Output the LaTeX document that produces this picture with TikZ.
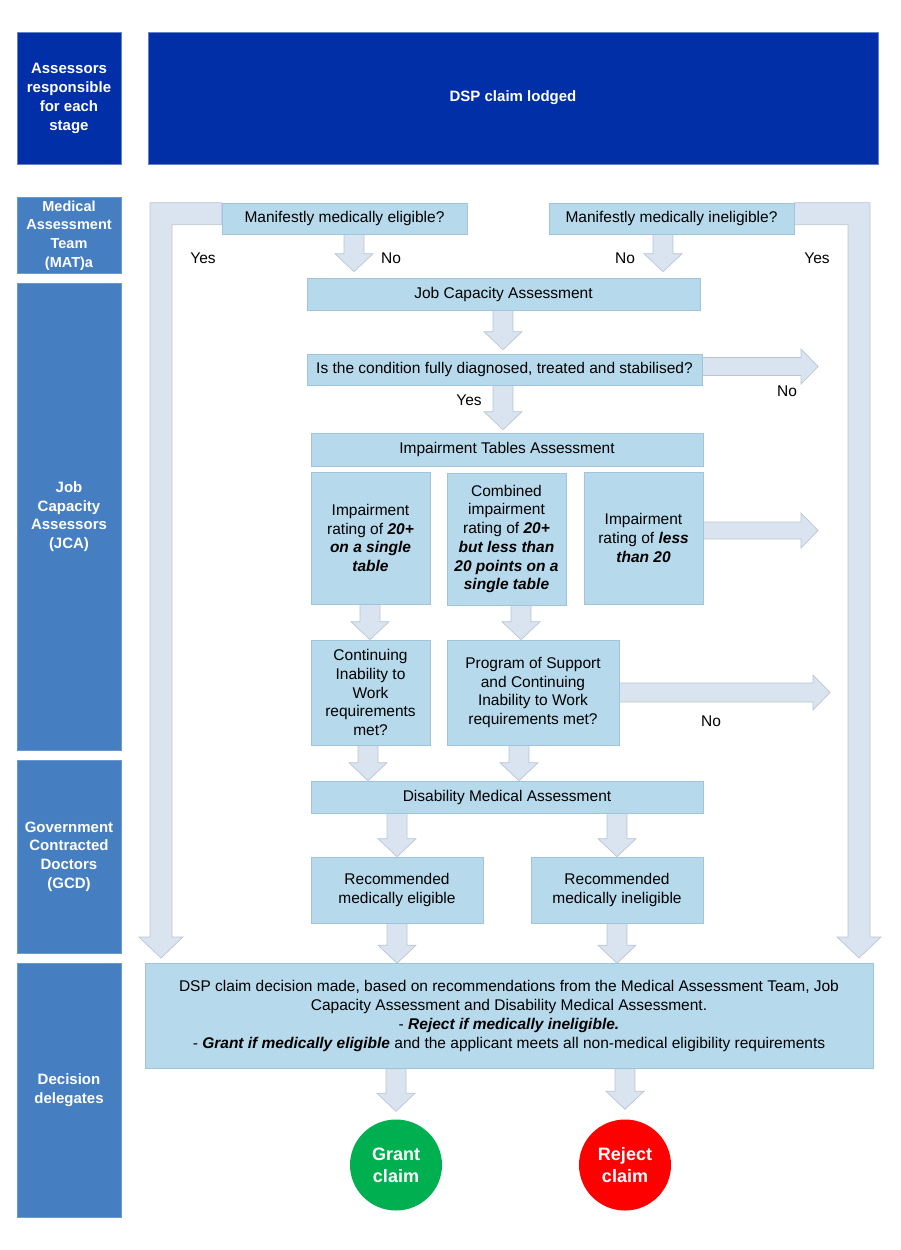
\documentclass[tikz,border=0pt]{standalone}
\usepackage{fontspec}
\setmainfont{Liberation Sans}
\usetikzlibrary{shapes.geometric,calc,backgrounds}

\definecolor{darkb}{RGB}{0,47,167}
\definecolor{midb}{RGB}{70,126,194}
\definecolor{boxfill}{RGB}{182,217,235}
\definecolor{boxline}{RGB}{160,196,218}
\definecolor{arrfill}{RGB}{218,228,241}
\definecolor{arrline}{RGB}{186,197,211}
\definecolor{grantc}{RGB}{0,176,80}
\definecolor{rejc}{RGB}{255,0,0}

\newcommand\bi[1]{\textbf{\textit{#1}}}

% down block arrow: [gap]{x px}{from node}{to node}
\newcommand\dnarrow[4][0]{%
  \path[barrow] let \p1=(#3.south), \p2=(#4.north) in
  ({#2pt-10pt},\y1) -- ({#2pt+10pt},\y1) -- ({#2pt+10pt},{\y2+#1pt+18pt}) --
  ({#2pt+19pt},{\y2+#1pt+18pt}) -- (#2pt,{\y2+#1pt}) -- ({#2pt-19pt},{\y2+#1pt+18pt}) --
  ({#2pt-10pt},{\y2+#1pt+18pt}) -- cycle;}
% right block arrow: {from node}{y px}{tip x px}{shaft half}{head half}
\newcommand\rtarrow[5]{%
  \path[barrow] let \p1=(#1.east), \p2=(#3,#2) in
  (\x1,{\y2+#4pt}) -- ({\x2-17pt},{\y2+#4pt}) -- ({\x2-17pt},{\y2+#5pt}) -- (\x2,\y2) --
  ({\x2-17pt},{\y2-#5pt}) -- ({\x2-17pt},{\y2-#4pt}) -- (\x1,{\y2-#4pt}) -- cycle;}

\begin{document}
\begin{tikzpicture}[x=1pt,y=-1pt,
  every node/.style={font=\fontsize{15.5}{18.7}\selectfont, inner sep=0pt, align=center},
  hdrbox/.style={fill=darkb, draw=darkb!60!white, line width=0.6pt, text=white, font=\fontsize{15}{19}\selectfont\bfseries},
  sidebox/.style={fill=midb, draw=midb!80!white, line width=0.6pt, text=white, font=\fontsize{15}{18.7}\selectfont\bfseries, minimum width=104pt},
  stepbox/.style={fill=boxfill, draw=boxline, line width=0.6pt},
  barrow/.style={fill=arrfill, draw=arrline, line width=0.7pt},
  lbl/.style={font=\fontsize{15.5}{18.7}\selectfont},
  circ/.style={ellipse, text=white, font=\fontsize{18}{22}\selectfont\bfseries, minimum width=92pt, minimum height=91pt}
]
\useasboundingbox (0,0) rectangle (900,1250);

% left column
\node[hdrbox, minimum width=104pt, minimum height=132pt] (hdr) at (69,98) {Assessors\\responsible\\for each\\stage};
\node[hdrbox, minimum width=730pt, minimum height=132pt] (lodged) at (513,98) {DSP claim lodged};
\node[sidebox, minimum height=76pt, font=\fontsize{14.5}{18.7}\selectfont\bfseries] (mat) at (69,235.5) {Medical\\Assessment\\Team\\(MAT)a};
\node[sidebox, minimum height=467pt] (jca) at (69,516.5) {Job\\Capacity\\Assessors\\(JCA)};
\node[sidebox, minimum height=193pt] (gcd) at (69,856.5) {Government\\Contracted\\Doctors\\(GCD)};
\node[sidebox, minimum height=254pt] (dd) at (69,1090) {Decision\\delegates};

% step boxes
\node[stepbox, minimum width=245pt, minimum height=31pt] (elig) at (344.5,218.5) {Manifestly medically eligible?};
\node[stepbox, minimum width=245pt, minimum height=31pt] (inelig) at (671.5,218.5) {Manifestly medically ineligible?};
\node[stepbox, minimum width=393pt, minimum height=32pt] (jcabox) at (503.5,294) {Job Capacity Assessment};
\node[stepbox, minimum width=395pt, minimum height=31pt] (cond) at (504.5,369.5) {Is the condition fully diagnosed, treated and stabilised?};
\node[stepbox, minimum width=392pt, minimum height=33pt] (ita) at (507,449.5) {Impairment Tables Assessment};
\node[stepbox, minimum width=119pt, minimum height=132pt] (r1) at (370.5,538) {Impairment\\rating of \bi{20+}\\\bi{on a single}\\\bi{table}};
\node[stepbox, minimum width=119pt, minimum height=132pt] (r2) at (506.5,539) {Combined\\impairment\\rating of \bi{20+}\\\bi{but less than}\\\bi{20 points on a}\\\bi{single table}};
\node[stepbox, minimum width=119pt, minimum height=132pt] (r3) at (643.5,538) {Impairment\\rating of \bi{less}\\\bi{than 20}};
\node[stepbox, minimum width=119pt, minimum height=105pt] (ciw) at (370.5,692.5) {Continuing\\Inability to\\Work\\requirements\\met?};
\node[stepbox, minimum width=172pt, minimum height=105pt] (pos) at (533,692.5) {Program of Support\\and Continuing\\Inability to Work\\requirements met?};
\node[stepbox, minimum width=392pt, minimum height=32pt] (dma) at (507,797) {Disability Medical Assessment};
\node[stepbox, minimum width=172pt, minimum height=66pt] (rme) at (397,890) {Recommended\\medically eligible};
\node[stepbox, minimum width=172pt, minimum height=66pt] (rmi) at (617,890) {Recommended\\medically ineligible};
\node[stepbox, minimum width=728pt, minimum height=105pt] (dec) at (509,1016) {DSP claim decision made, based on recommendations from the Medical Assessment Team, Job\\Capacity Assessment and Disability Medical Assessment.\\- \bi{Reject if medically ineligible.}\\- \bi{Grant if medically eligible} and the applicant meets all non-medical eligibility requirements};
\node[circ, fill=grantc] (grant) at (396,1165) {Grant\\claim};
\node[circ, fill=rejc] (reject) at (625,1165) {Reject\\claim};

% labels
\node[lbl] (y1) at (203,258) {Yes};
\node[lbl] (n1) at (391,258) {No};
\node[lbl] (n2) at (625,258) {No};
\node[lbl] (y2) at (817,258) {Yes};
\node[lbl] (y3) at (469,400) {Yes};
\node[lbl] (n3) at (787,391) {No};
\node[lbl] (n4) at (711,721) {No};

\coordinate (lx) at (150,0);
\coordinate (rx) at (870,0);

\begin{scope}[on background layer]
  % big L arrows
  \path[barrow] (elig.north west) -- (elig.north west -| lx) -- (150,937) -- (139,937) -- (161,958) -- (183,937) -- (172,937) -- ($(elig.north west -| lx)+(22,22)$) -- ($(elig.north west)+(0,22)$) -- cycle;
  \path[barrow] (inelig.north east) -- (inelig.north east -| rx) -- (870,937) -- (881,937) -- (859,958) -- (837,937) -- (848,937) -- ($(inelig.north east -| rx)+(-22,22)$) -- ($(inelig.north east)+(0,22)$) -- cycle;
  % down arrows
  \dnarrow[6]{354}{elig}{jcabox}
  \dnarrow[6]{663}{inelig}{jcabox}
  \dnarrow[4]{503}{jcabox}{cond}
  \dnarrow[3]{503}{cond}{ita}
  \dnarrow{370}{r1}{ciw}
  \dnarrow{521}{r2}{pos}
  \dnarrow{368}{ciw}{dma}
  \dnarrow{519}{pos}{dma}
  \dnarrow{397}{dma}{rme}
  \dnarrow{617}{dma}{rmi}
  \dnarrow{397}{rme}{dec}
  \dnarrow{617}{rmi}{dec}
  \dnarrow[8]{396}{dec}{grant}
  \dnarrow[10]{625}{dec}{reject}
  % right arrows
  \rtarrow{cond}{366.5}{818}{9}{17.5}
  \rtarrow{r3}{530.5}{818}{8.5}{17.5}
  \rtarrow{pos}{692.5}{830}{9.5}{17.5}
\end{scope}
\end{tikzpicture}
\end{document}
